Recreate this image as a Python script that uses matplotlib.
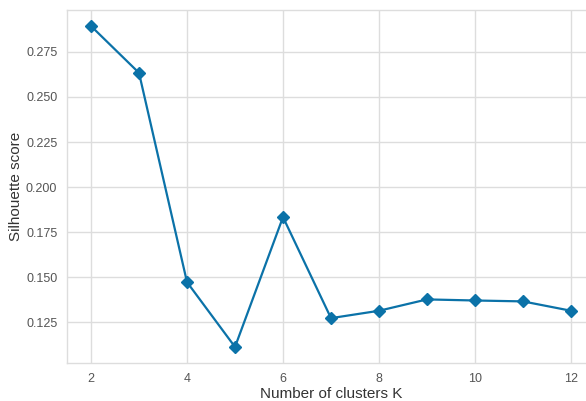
import matplotlib
matplotlib.use("Agg")
import matplotlib.pyplot as plt

k_values = [2, 3, 4, 5, 6, 7, 8, 9, 10, 11, 12]
silhouette = [0.2894, 0.2634, 0.1472, 0.1112, 0.1833, 0.1272, 0.1313, 0.1376, 0.1370, 0.1365, 0.1313]

plt.rcParams['font.family'] = ['Liberation Sans', 'DejaVu Sans']

fig = plt.figure(figsize=(5.86, 4.01), dpi=100)
ax = fig.add_axes([67 / 586, 1 - 363 / 401, (595 - 67) / 586, (363 - 10) / 401])

ax.plot(k_values, silhouette, color='#0b72a8', marker='D', markersize=6.5, linewidth=1.6)

ax.set_xticks([2, 4, 6, 8, 10, 12])
ax.set_yticks([0.125, 0.150, 0.175, 0.200, 0.225, 0.250, 0.275])
ax.set_yticklabels(['0.125', '0.150', '0.175', '0.200', '0.225', '0.250', '0.275'])
ax.grid(True, color='#dddddd', linewidth=1.0)
ax.set_axisbelow(True)
for s in ax.spines.values():
    s.set_color('#dddddd')
    s.set_linewidth(1.0)
ax.tick_params(length=0, labelsize=9, labelcolor='#555555', pad=7)

ax.set_xlabel('Number of clusters K', fontsize=11, color='#333333', labelpad=2)
ax.set_ylabel('Silhouette score', fontsize=11, color='#333333', labelpad=2)

fig.savefig('out.png', dpi=100)
